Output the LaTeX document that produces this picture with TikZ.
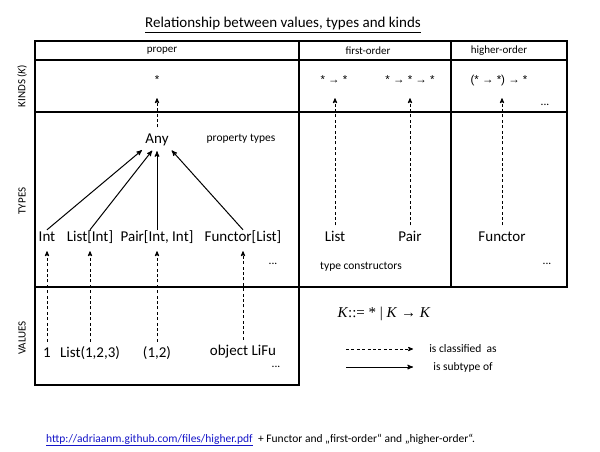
\documentclass[tikz,border=0pt]{standalone}
\usepackage{fontspec}
\setmainfont{Carlito}
\newfontfamily\symfont{Liberation Sans}
\newfontfamily\formfont{Liberation Serif}
\usetikzlibrary{arrows,positioning}
\definecolor{linkblue}{RGB}{20,20,200}
\newcommand{\karr}{{\symfont →}}

\begin{document}
\begin{tikzpicture}[x=1pt,y=-1pt,>=stealth',
	tbl/.style={line width=1.5pt},
	big/.style={font=\fontsize{15}{18}\selectfont,inner sep=1pt,text height=10.5pt,text depth=3.5pt},
	small/.style={font=\fontsize{11.5}{14}\selectfont,inner sep=1pt},
	hdr/.style={font=\fontsize{11}{13}\selectfont,inner sep=1pt},
	side/.style={font=\fontsize{11}{13}\selectfont,rotate=90},
	kind/.style={font=\symfont\fontsize{11.5}{14}\selectfont,inner sep=1pt,text height=9pt,text depth=3pt},
	classified/.style={->,dash pattern=on 3pt off 2.4pt,line width=0.8pt},
	subtype/.style={->,line width=1pt}]

	\useasboundingbox (0,0) rectangle (600,452);

	\node[font=\fontsize{15}{17}\selectfont] (title) at (283,25) {\underline{Relationship between values, types and kinds}};

	% table
	\draw[tbl] (35,41) rectangle (567,287);
	\draw[tbl] (35,60) -- (567,60) (35,112) -- (567,112);
	\draw[tbl] (299,41) -- (299,287) (451,41) -- (451,287);
	\draw[tbl] (35,287) rectangle (299,385);

	\node[side] (skinds) at (22,86) {KINDS (\textit{K})};
	\node[side] (stypes) at (22,201) {TYPES};
	\node[side] (svalues) at (22,338) {VALUES};

	\node[hdr] (hproper) at (162,51) {proper};
	\node[hdr] (hfirst) at (368,51) {first-order};
	\node[hdr] (hhigher) at (499,51) {higher-order};

	% kinds
	\node[kind] (kStar) at (157,81) {*};
	\node[kind] (kList) at (334,81) {* \karr\ *};
	\node[kind] (kPair) at (410,81) {* \karr\ * \karr\ *};
	\node[kind] (kFun) at (499,81) {(* \karr\ *) \karr\ *};
	\node[small] (kdots) at (545,105) {...};

	% types
	\node[big] (tAny) at (157,140) {Any};
	\node[small] (ptypes) at (241,139) {property types};
	\node[big] (tInt) at (47,238) {Int};
	\node[big] (tList) at (90,238) {List[Int]};
	\node[big] (tPair) at (157,238) {Pair[Int, Int]};
	\node[big] (tFun) at (243,238) {Functor[List]};
	\node[small] (tdots) at (273,264) {...};
	\node[big] (tcList) at (335,238) {List};
	\node[big] (tcPair) at (410,238) {Pair};
	\node[small] (tcons) at (361,267) {type constructors};
	\node[big] (tcFun) at (502,238) {Functor};
	\node[small] (tcdots) at (547,264) {...};

	% values
	\node[big] (v1) at (47,354) {1};
	\node[big] (vList) at (90,354) {List(1,2,3)};
	\node[big] (vPair) at (157,354) {(1,2)};
	\node[big] (vObj) at (243,352) {object LiFu};
	\node[small] (vdots) at (276,367) {...};

	\path[subtype,shorten >=3pt]
	(tInt.north) edge (tAny.south west)
	(tList.north) edge (tAny.250)
	(tPair.north) edge (tAny.south)
	(tFun.north) edge (tAny.south east);

	\foreach \v/\t in {v1/tInt,vList/tList,vPair/tPair,vObj/tFun}
		\draw[classified,shorten <=4pt,shorten >=5pt] (\v.north) -- (\v.north |- \t.south);
	\draw[classified,shorten <=4.5pt,shorten >=10pt] (tAny.north) -- (kStar.south);
	\draw[classified,shorten <=4.5pt,shorten >=10pt] (tcList.north) -- (tcList.north |- kList.south);
	\draw[classified,shorten <=4.5pt,shorten >=10pt] (tcPair.north) -- (kPair.south);
	\draw[classified,shorten <=4.5pt,shorten >=10pt] (tcFun.north) -- (tcFun.north |- kFun.south);

	% legend
	\node[font=\formfont\fontsize{15}{18}\selectfont] (form) at (384,314) {\textit{K}::= * | \textit{K} → \textit{K}};
	\coordinate (l1s) at (346,349);
	\coordinate (l1e) at (413,349);
	\coordinate (l2s) at (346,367);
	\coordinate (l2e) at (413,367);
	\draw[classified] (l1s) -- (l1e);
	\draw[subtype] (l2s) -- (l2e);
	\node[small] (lclass) at (463,349) {is classified\ \ as};
	\node[small] (lsub) at (463,367) {is subtype of};

	% footnote
	\node[small,anchor=base west,text=linkblue] (link) at (45,442) {\underline{http://adriaanm.github.com/files/higher.pdf}};
	\node[small,anchor=base west] (note) at ([xshift=3pt]link.base east) {+ Functor and „first-order“ and „higher-order“.};
\end{tikzpicture}
\end{document}
